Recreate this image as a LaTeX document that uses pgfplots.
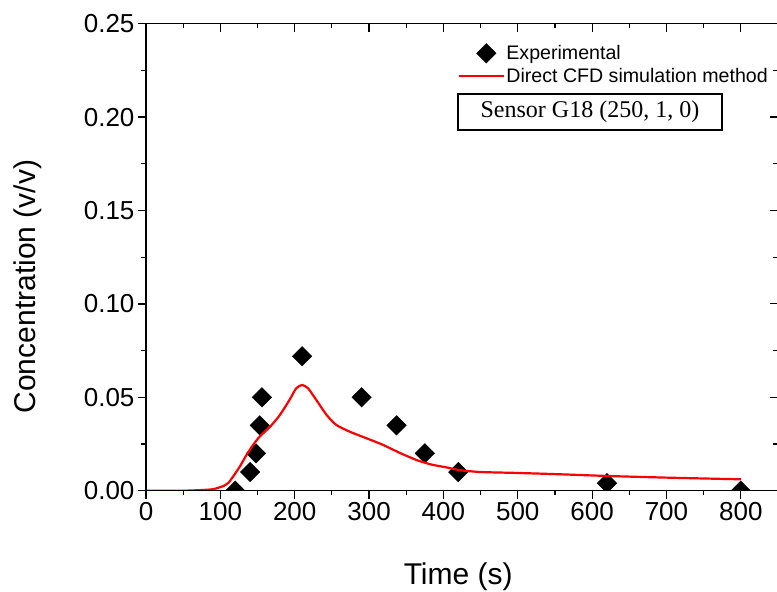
\documentclass[border=0pt]{standalone}
\usepackage{fontspec}
\setmainfont{Liberation Sans}
\newfontfamily\timesfont{Liberation Serif}
\usepackage{pgfplots}
\usepackage{pgfplotstable}
\pgfplotsset{compat=1.18}

% measured points
\pgfplotstableread{
x y
120 0.000
140 0.010
148 0.020
153 0.035
156 0.050
210 0.072
290 0.050
337 0.035
375 0.020
420 0.010
620 0.004
800 0.000
}\expdata

% CFD curve
\pgfplotstableread{
x y
0 0.0000
50 0.0000
72 0.0003
90 0.0008
104 0.0025
111 0.0043
117 0.0075
126 0.0128
135 0.0190
144 0.0245
153 0.0290
167 0.0343
180 0.0405
193 0.0486
202 0.0548
210 0.0566
218 0.0548
229 0.0486
243 0.0405
256 0.0352
274 0.0316
297 0.0280
319 0.0245
341 0.0203
364 0.0164
375 0.0150
386 0.0138
404 0.0125
422 0.0110
450 0.0100
500 0.0095
556 0.0088
619 0.0079
700 0.0070
800 0.0061
}\cfddata

\pgfplotsset{
  common/.style={
    at={(0,0)}, anchor=south west,
    scale only axis, width=632pt, height=467pt,
    xmin=0, xmax=850, ymin=0, ymax=0.25,
    xtick={0,100,200,300,400,500,600,700,800}, minor x tick num=1,
    ytick={0,0.05,0.1,0.15,0.2,0.25}, minor y tick num=1,
    major tick length=8pt, minor tick length=4.5pt,
    axis line style={line width=1.2pt},
    every tick/.style={black, line width=1.2pt},
  },
  markleg/.style={legend image code/.code={\path[draw=none] (0pt,0pt) -- (45pt,0pt); \draw[##1] plot coordinates {(27pt,0pt)};}},
  lineleg/.style={legend image code/.code={\draw[##1] (0pt,0pt) -- (45pt,0pt);}},
}

\begin{document}
\begin{tikzpicture}
\useasboundingbox (-146pt,-101.3pt) rectangle (631pt,490.7pt);
\begin{axis}[
    common,
    clip marker paths=true,
    tick align=outside,
    xtick pos=bottom, ytick pos=left,
    tick label style={font=\fontsize{26}{26}\selectfont},
    yticklabel style={/pgf/number format/.cd, fixed, fixed zerofill, precision=2},
    /pgf/number format/assume math mode=true,
    xlabel={Time (s)},
    ylabel={Concentration (v/v)},
    xlabel style={at={(axis description cs:0.494,-0.184)}, anchor=center, font=\fontsize{30}{30}\selectfont},
    ylabel style={at={(axis description cs:-0.187,0.437)}, anchor=center, font=\fontsize{30}{30}\selectfont},
    legend style={
        at={(0.4937,0.958)}, anchor=north west,
        draw=none, fill=none, inner sep=0pt, row sep=4pt,
        font=\fontsize{19.6}{22}\selectfont,
        cells={anchor=west}, nodes={inner sep=1pt},
    },
]
\addplot[only marks, mark=square*, mark size=6.9pt, mark options={rotate=45, fill=black, draw=black}, markleg]
    table[x=x, y=y] {\expdata};
\addlegendentry{Experimental}
\addplot[red, line width=2.2pt, no marks, smooth, tension=0.4, lineleg]
    table[x=x, y=y] {\cfddata};
\addlegendentry{Direct CFD simulation method}
\node[draw, line width=1.2pt, minimum width=264pt, minimum height=36pt, inner sep=0pt,
      font=\timesfont\fontsize{24}{24}\selectfont] at (rel axis cs:0.7025,0.811) {Sensor G18 (250, 1, 0)};
\end{axis}
\begin{axis}[
    common,
    tick align=inside,
    xtick pos=top, ytick pos=right,
    xticklabels={}, yticklabels={},
]
\end{axis}
\end{tikzpicture}
\end{document}
